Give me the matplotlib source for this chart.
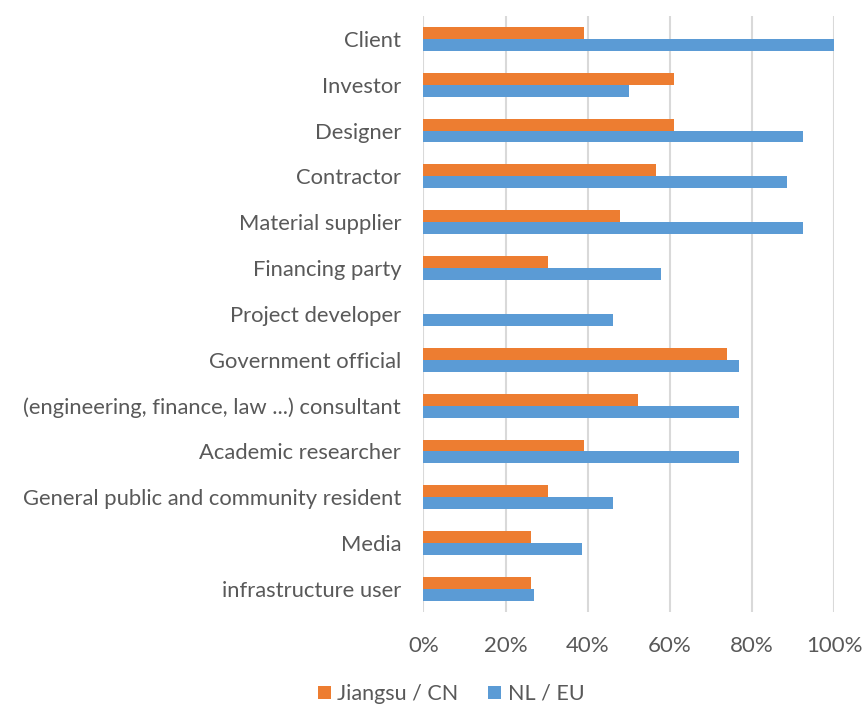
import numpy as np
import matplotlib
matplotlib.use("Agg")
from matplotlib import pyplot as plt
from matplotlib.ticker import PercentFormatter

plt.rcParams['font.family'] = ['Lato', 'DejaVu Sans']

# stakeholder roles, top to bottom
roles = ['Client', 'Investor', 'Designer', 'Contractor', 'Material supplier',
         'Financing party', 'Project developer', 'Government official',
         '(engineering, finance, law ...) consultant', 'Academic researcher',
         'General public and community resident', 'Media', 'infrastructure user']

# share of respondents (%)
jiangsu = [39.1, 60.9, 60.9, 56.5, 47.8, 30.4, 0.0, 73.9, 52.2, 39.1, 30.4, 26.1, 26.1]
nl_eu = [100.0, 50.0, 92.3, 88.5, 92.3, 57.7, 46.2, 76.9, 76.9, 76.9, 46.2, 38.5, 26.9]

c_or = '#ED7D31'
c_bl = '#5B9BD5'
txt = '#595959'

fig = plt.figure(figsize=(8.64, 7.05), dpi=100)
ax = fig.add_axes([0.490, 0.132, 0.4757, 0.8454])

y = np.arange(len(roles))
h = 0.26
ax.barh(y - h/2, jiangsu, height=h, color=c_or, label='Jiangsu / CN', zorder=3)
ax.barh(y + h/2, nl_eu, height=h, color=c_bl, label='NL / EU', zorder=3)

ax.set_ylim(len(roles) - 0.5, -0.5)
ax.set_xlim(0, 100)
ax.set_yticks(y)
ax.set_yticklabels(roles, fontsize=15.8, color=txt)
ax.set_xticks(np.arange(0, 101, 20))
ax.xaxis.set_major_formatter(PercentFormatter(decimals=0))
ax.tick_params(axis='x', labelsize=16, labelcolor=txt, length=0, pad=17)
ax.tick_params(axis='y', length=0, pad=16)
ax.grid(axis='x', color='#d9d9d9', linewidth=1.5, zorder=0)
for s in ax.spines.values():
    s.set_visible(False)

fig.legend(loc='lower center', bbox_to_anchor=(0.522, -0.026), ncol=2,
           frameon=False, fontsize=15.5, labelcolor=txt,
           handlelength=0.6, handleheight=0.6, handletextpad=0.3,
           columnspacing=1.4)

fig.savefig('out.png', dpi=100)
